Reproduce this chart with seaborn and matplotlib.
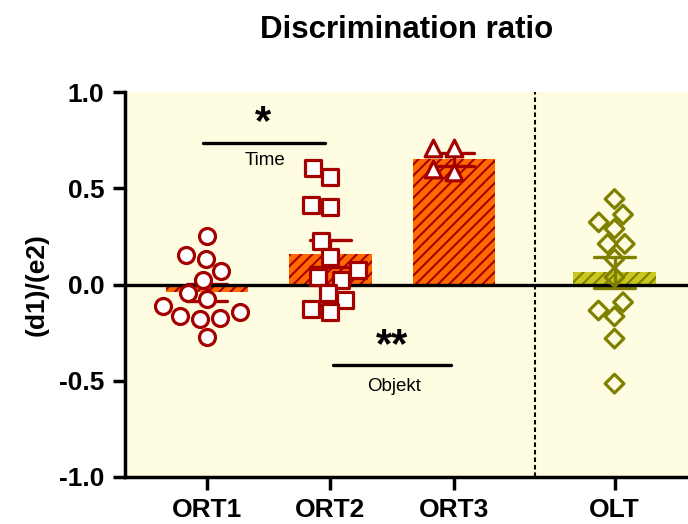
import numpy as np
import pandas as pd
import seaborn as sns
import matplotlib.pyplot as plt

# values
ort1 = [0.25, 0.155, 0.135, 0.07, 0.025, -0.045, -0.073, -0.114, -0.144, -0.166, -0.176, -0.181, -0.275]
ort2 = [0.605, 0.56, 0.414, 0.404, 0.224, 0.141, 0.073, 0.038, 0.024, -0.045, -0.083, -0.126, -0.144]
ort3 = [0.71, 0.71, 0.6, 0.585]
olt = [0.444, 0.363, 0.323, 0.289, 0.211, 0.211, 0.133, 0.038, -0.092, -0.135, -0.166, -0.281, -0.515]

groups = ["ORT1", "ORT2", "ORT3", "OLT"]
group_values = [ort1, ort2, ort3, olt]
group_pos = [0, 1, 2, 3.3]
markers = ["o", "s", "^", "D"]

title = "Discrimination ratio"
ylabel = "(d1)/(e2)"
sig_time = ("*", "Time")
sig_obj = ("**", "Objekt")

bg = "#FFFDE1"
orange = "#FF6A00"
darkred = "#A50000"
lime = "#C8C81E"
olive = "#808000"

df = pd.DataFrame({
    "group": np.repeat(groups, [len(v) for v in group_values]),
    "value": np.concatenate(group_values),
    "pos": np.repeat(group_pos, [len(v) for v in group_values]),
})

sns.set_style("ticks")
plt.rcParams["font.family"] = ["Liberation Sans", "DejaVu Sans"]
plt.rcParams["axes.unicode_minus"] = False
plt.rcParams["hatch.linewidth"] = 1.5
for k in ["text.color", "axes.labelcolor", "axes.edgecolor", "xtick.color", "ytick.color"]:
    plt.rcParams[k] = "black"

fig = plt.figure(figsize=(6.88, 5.24), dpi=100)
ax = fig.add_axes([0.1817, 0.0897, 0.8183, 0.7347])
ax.set_facecolor(bg)

ort = df[df["group"] != "OLT"]
oltd = df[df["group"] == "OLT"]

sns.barplot(data=ort, x="pos", y="value", native_scale=True, errorbar="se", capsize=0.33,
            width=0.67, color=orange, saturation=1, hatch="///", edgecolor=darkred, linewidth=0,
            err_kws={"color": darkred, "linewidth": 2.4}, ax=ax)
sns.barplot(data=oltd, x="pos", y="value", native_scale=True, errorbar="se", capsize=0.33,
            width=0.67, color=lime, saturation=1, hatch="///", edgecolor=olive, linewidth=0,
            err_kws={"color": olive, "linewidth": 2.4}, ax=ax)

ax.axhline(0, color="black", lw=2.4, zorder=3)

sizes = {"o": 11.5, "s": 11, "^": 12, "D": 9.5}
for g, m in zip(groups, markers):
    sub = df[df["group"] == g]
    ec = olive if g == "OLT" else darkred
    sns.swarmplot(data=sub, x="pos", y="value", native_scale=True, marker=m, size=sizes[m],
                  color="white", edgecolor=ec, linewidth=2.3, zorder=4, ax=ax)
    if g == "OLT":
        ax.collections[-1].set_facecolor("none")

# divider between ORT and OLT
ax.axvline(2.656, color="black", lw=1.5, ls=(0, (2.2, 1.4)), zorder=1)

# significance marks
ax.plot([-0.032, 0.955], [0.737, 0.737], color="black", lw=2.4)
ax.text(0.453, 0.84, sig_time[0], ha="center", va="center", fontsize=30, fontweight="bold")
ax.text(0.470, 0.642, sig_time[1], ha="center", va="center", fontsize=13.5)
ax.plot([1.02, 1.976], [-0.418, -0.418], color="black", lw=2.4)
ax.text(1.498, -0.32, sig_obj[0], ha="center", va="center", fontsize=30, fontweight="bold")
ax.text(1.514, -0.528, sig_obj[1], ha="center", va="center", fontsize=13.5)

ax.set_xlim(-0.664, 3.895)
ax.set_ylim(-1.0, 1.0)
ax.set_xticks(group_pos)
ax.set_xticklabels(groups)
ax.set_yticks([-1.0, -0.5, 0.0, 0.5, 1.0])
ax.set_yticklabels([f"{v:.1f}" for v in [-1.0, -0.5, 0.0, 0.5, 1.0]])
ax.set_xlabel("")
ax.set_ylabel(ylabel, fontsize=19, fontweight="bold", labelpad=7)
ax.set_title(title, fontsize=22.5, fontweight="bold", pad=39)

for s in ["top", "right"]:
    ax.spines[s].set_visible(False)
for s in ["left", "bottom"]:
    ax.spines[s].set_linewidth(2.5)
ax.tick_params(axis="both", length=9, width=2.5, labelsize=19, pad=6)
for lab in ax.get_xticklabels() + ax.get_yticklabels():
    lab.set_fontweight("bold")

fig.savefig("out.png", dpi=100)
